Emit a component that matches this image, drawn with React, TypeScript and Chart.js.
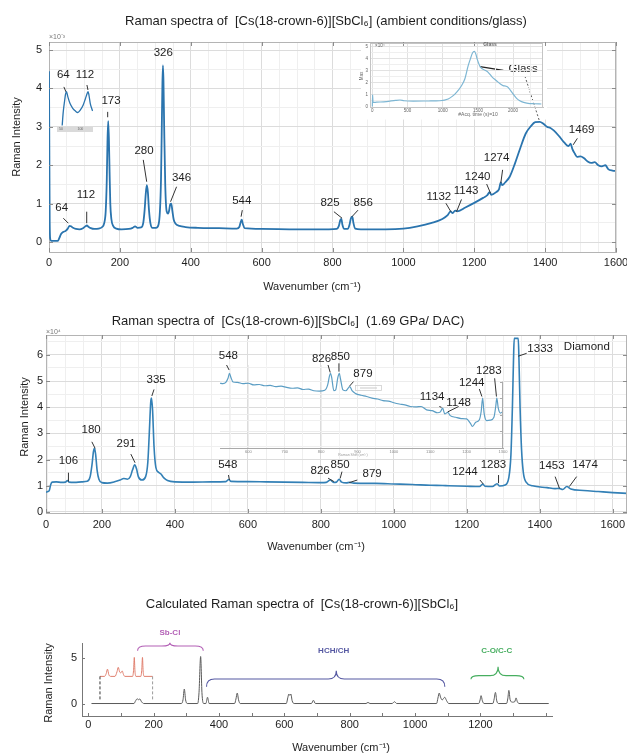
import React, { useEffect, useRef } from 'react';
import { Chart, registerables } from 'chart.js';

Chart.register(...registerables);

const FONT = "'Liberation Sans', Arial, Helvetica, sans-serif";
const INK = '#1e1e1e';

// ---------------- data (x = wavenumber cm-1, y = intensity) ----------------
// Ambient spectrum, intensity x1e-3
const AMBIENT_SPECTRUM: [number, number][] = [
  [0, 4.45], [1, 2.4], [2, 0.5], [3.5, 0.08], [6, 0.03], [25, 0.03], [29, 0.1], [34, 0.21], [40, 0.26],
  [47, 0.29], [53, 0.35], [58, 0.42], [62, 0.41], [68, 0.37], [76, 0.34], [86, 0.33], [96, 0.36],
  [103, 0.41], [107, 0.43], [111, 0.4], [118, 0.36], [128, 0.34], [140, 0.35], [150, 0.39], [156, 0.5],
  [160, 0.8], [163, 1.6], [165, 2.6], [167, 3.15], [169, 2.7], [171, 1.8], [173, 1.0], [176, 0.6],
  [181, 0.42], [190, 0.35], [205, 0.33], [225, 0.34], [236, 0.37], [243, 0.41], [250, 0.37], [260, 0.38],
  [266, 0.5], [270, 0.85], [273, 1.25], [276, 1.48], [279, 1.3], [282, 0.85], [286, 0.5], [292, 0.37],
  [302, 0.37], [309, 0.45], [313, 0.8], [316, 1.6], [318, 2.8], [320, 4.1], [321.5, 4.6], [323, 4.2],
  [325, 3.0], [328, 1.5], [332, 0.8], [336, 0.74], [339, 0.82], [342, 0.98], [345, 1.0], [348, 0.82],
  [352, 0.58], [358, 0.47], [368, 0.42], [385, 0.39], [420, 0.37], [480, 0.36], [530, 0.35], [537, 0.39],
  [541, 0.52], [544, 0.58], [547, 0.47], [552, 0.36], [600, 0.34], [700, 0.33], [790, 0.33], [812, 0.34],
  [818, 0.42], [822, 0.57], [825, 0.6], [828, 0.45], [833, 0.34], [843, 0.34], [848, 0.45], [852, 0.62],
  [856, 0.66], [859, 0.5], [864, 0.35], [880, 0.33], [950, 0.33], [1000, 0.35], [1040, 0.41], [1080, 0.5],
  [1110, 0.6], [1125, 0.7], [1133, 0.8], [1139, 0.75], [1146, 0.82], [1153, 0.8], [1175, 0.9], [1200, 1.02],
  [1225, 1.15], [1237, 1.22], [1243, 1.3], [1248, 1.23], [1262, 1.3], [1270, 1.38], [1275, 1.55],
  [1279, 1.48], [1287, 1.55], [1300, 1.7], [1315, 2.05], [1330, 2.45], [1345, 2.82], [1360, 3.02],
  [1372, 3.12], [1385, 3.13], [1395, 3.08], [1405, 3.0], [1415, 2.97], [1425, 2.9], [1440, 2.75],
  [1455, 2.58], [1466, 2.5], [1472, 2.56], [1477, 2.42], [1484, 2.3], [1490, 2.22], [1500, 2.23],
  [1510, 2.18], [1520, 2.1], [1530, 2.06], [1540, 2.08], [1550, 2.0], [1560, 1.97], [1570, 2.0],
  [1578, 1.9], [1590, 1.86], [1600, 1.85],
];

// Small low-frequency zoom inside the ambient panel
const AMBIENT_LOW_ZOOM: [number, number][] = [
  [54.5, 0.2], [57, 0.29], [60, 0.36], [62, 0.4], [64, 0.417], [67, 0.385], [72, 0.34], [78, 0.31],
  [84, 0.292], [89, 0.283], [95, 0.3], [101, 0.33], [106, 0.37], [110, 0.405], [112, 0.417], [114, 0.395],
  [117, 0.34], [120, 0.31], [122, 0.293],
];

// "Glass" inset: max intensity (x1e4) vs acquisition time
const GLASS_TRACE: [number, number][] = [
  [0, 0.05], [4, 1.0], [10, 0.38], [60, 0.4], [200, 0.45], [330, 0.55], [393, 0.58], [450, 0.52],
  [582, 0.49], [800, 0.5], [960, 0.52], [1078, 0.66], [1140, 0.9], [1196, 1.21], [1260, 1.7], [1314, 2.32],
  [1362, 3.42], [1400, 4.1], [1423, 4.47], [1450, 4.6], [1470, 4.4], [1490, 3.97], [1537, 3.3],
  [1600, 3.05], [1646, 2.87], [1700, 2.5], [1764, 2.18], [1820, 1.9], [1858, 1.77], [1900, 1.72],
  [1929, 1.63], [1960, 1.4], [2000, 1.08], [2050, 0.72], [2095, 0.52], [2150, 0.38], [2213, 0.3],
  [2300, 0.27], [2402, 0.25],
];

// DAC spectrum at 1.69 GPa, intensity x1e4
const DAC_SPECTRUM: [number, number][] = [
  [47, 0.75], [52, 0.78], [56, 0.82], [60, 1.05], [64, 1.14], [75, 1.15], [90, 1.13], [100, 1.14],
  [106, 1.2], [110, 1.14], [125, 1.13], [145, 1.15], [160, 1.17], [168, 1.35], [173, 1.8], [177, 2.3],
  [180, 2.43], [183, 2.2], [187, 1.6], [192, 1.25], [200, 1.12], [215, 1.1], [235, 1.15], [250, 1.22],
  [260, 1.28], [270, 1.25], [278, 1.35], [284, 1.6], [290, 1.8], [295, 1.65], [300, 1.35], [310, 1.22],
  [320, 1.35], [326, 1.9], [330, 3.0], [334, 4.2], [336, 4.35], [339, 3.9], [343, 2.5], [348, 1.7],
  [355, 1.52], [362, 1.45], [370, 1.3], [380, 1.2], [400, 1.15], [450, 1.14], [500, 1.15], [540, 1.16],
  [548, 1.24], [554, 1.17], [600, 1.16], [650, 1.15], [700, 1.14], [750, 1.13], [800, 1.12], [815, 1.13],
  [826, 1.22], [835, 1.13], [843, 1.14], [850, 1.25], [857, 1.14], [870, 1.11], [879, 1.13], [890, 1.1],
  [950, 1.09], [1000, 1.07], [1050, 1.05], [1100, 1.02], [1134, 1.01], [1150, 1.0], [1200, 0.98],
  [1235, 0.97], [1244, 1.07], [1250, 0.98], [1270, 0.97], [1283, 1.08], [1290, 0.99], [1305, 1.03],
  [1315, 1.3], [1321, 2.2], [1325, 4.0], [1328, 5.8], [1330, 6.63], [1341, 6.63], [1343, 5.8],
  [1346, 4.0], [1350, 2.4], [1355, 1.5], [1362, 1.15], [1380, 1.0], [1420, 0.93], [1442, 0.89],
  [1453, 0.9], [1463, 0.86], [1474, 0.97], [1485, 0.88], [1520, 0.82], [1560, 0.78], [1600, 0.74],
  [1640, 0.71],
];

// DAC zoomed region (inset), arbitrary units
const DAC_ZOOM: [number, number][] = [
  [522, 7.8], [530, 7.75], [538, 7.9], [544, 8.4], [548, 9.0], [552, 8.5], [558, 7.95], [570, 7.9],
  [585, 7.75], [600, 7.8], [615, 7.6], [630, 7.65], [645, 7.5], [660, 7.55], [675, 7.4], [690, 7.45],
  [705, 7.3], [720, 7.2], [735, 7.25], [750, 7.05], [765, 7.1], [780, 6.9], [795, 6.85], [810, 6.95],
  [818, 7.6], [823, 8.7], [826, 9.0], [829, 8.5], [835, 6.9], [840, 7.0], [846, 8.5], [850, 9.0],
  [853, 8.4], [860, 7.0], [868, 6.9], [875, 7.25], [879, 7.4], [885, 6.9], [895, 6.55], [910, 6.35],
  [925, 6.2], [940, 6.0], [955, 5.9], [970, 5.7], [985, 5.65], [1000, 5.45], [1015, 5.3], [1030, 5.2],
  [1045, 5.0], [1060, 4.95], [1075, 5.0], [1090, 4.6], [1105, 4.5], [1120, 4.25], [1128, 4.35],
  [1134, 4.8], [1140, 4.1], [1148, 4.3], [1155, 3.9], [1170, 3.7], [1185, 3.55], [1200, 3.5],
  [1210, 3.0], [1216, 2.6], [1225, 3.1], [1235, 3.4], [1240, 4.4], [1244, 6.0], [1248, 4.2],
  [1255, 3.3], [1265, 3.35], [1275, 3.7], [1280, 5.0], [1283, 6.0], [1287, 4.8], [1293, 4.2], [1300, 4.4],
];

// Calculated spectrum
const CALC_SPECTRUM: [number, number][] = [
  [10, 0], [140, 0], [145, 0.3], [150, 0.52], [154, 0.42], [158, 0.5], [163, 0.2], [170, 0], [285, 0],
  [290, 0.4], [294, 1.6], [298, 0.4], [303, 0], [335, 0], [339, 1.2], [344, 5.2], [348, 1.2], [353, 0],
  [360, 0], [365, 0.69], [370, 0], [448, 0], [452, 0.5], [456, 1.16], [460, 0.4], [465, 0], [606, 0],
  [611, 0.7], [614, 1.05], [617, 0.9], [620, 1.05], [624, 0.3], [630, 0], [683, 0], [689, 0.36],
  [695, 0], [850, 0], [856, 0.12], [862, 0], [930, 0], [937, 0.2], [944, 0], [1066, 0], [1070, 0.6],
  [1074, 1.16], [1078, 0.7], [1083, 0.4], [1091, 0.69], [1096, 0.35], [1103, 0], [1195, 0], [1199, 0.4],
  [1202, 0.87], [1206, 0.3], [1211, 0], [1238, 0], [1242, 0.5], [1246, 1.23], [1250, 0.3], [1255, 0],
  [1280, 0], [1284, 0.6], [1287, 1.45], [1291, 0.4], [1298, 0.15], [1305, 0.2], [1309, 0.62],
  [1313, 0.2], [1318, 0], [1409, 0],
];

// Calculated low-frequency region, offset trace
const CALC_LOW_ZOOM: [number, number][] = [
  [36, 3.0], [50, 3.0], [55, 3.3], [59, 3.8], [63, 3.2], [68, 3.0], [82, 3.0], [88, 3.5], [92, 4.0],
  [96, 3.5], [100, 3.4], [104, 3.6], [108, 3.2], [112, 3.0], [136, 3.0], [139, 3.8], [141, 5.1],
  [143, 3.6], [146, 3.0], [161, 3.0], [164, 3.8], [166, 5.1], [168, 3.6], [171, 3.0], [197, 3.0],
];

// ---------------- ticks ----------------
const AMBIENT_X_TICKS = [0, 200, 400, 600, 800, 1000, 1200, 1400, 1600];
const AMBIENT_Y_TICKS = [0, 1, 2, 3, 4, 5];
const DAC_X_TICKS = [47, 200, 400, 600, 800, 1000, 1200, 1400, 1600];
const DAC_X_LABELS = ['0', '200', '400', '600', '800', '1000', '1200', '1400', '1600'];
const DAC_Y_TICKS = [0, 1, 2, 3, 4, 5, 6];
const CALC_X_TICKS = [0, 200, 400, 600, 800, 1000, 1200];
const CALC_X_MARKS = [0, 100, 200, 300, 400, 500, 600, 700, 800, 900, 1000, 1100, 1200, 1300, 1400];
const CALC_Y_TICKS = [0, 5];
const GLASS_X_TICKS = [0, 500, 1000, 1500, 2000];
const GLASS_Y_TICKS = [0, 1, 2, 3, 4, 5];
const DAC_ZOOM_X_TICKS = [600, 700, 800, 900, 1000, 1100, 1200, 1300];

// ---------------- annotations (label text, anchor in data units, leader line) ----------------
type Peak = { t: string; x: number; y: number; leader?: number[]; dash?: boolean };

const AMBIENT_PEAKS: Peak[] = [
  { t: '64', x: 35.8, y: 0.88, leader: [40.4, 0.62, 54.5, 0.49] },
  { t: '112', x: 104.4, y: 1.22, leader: [106.4, 0.79, 106.4, 0.49] },
  { t: '173', x: 175, y: 3.68, leader: [165.6, 3.39, 165.6, 3.25] },
  { t: '280', x: 268, y: 2.38, leader: [266, 2.14, 275.7, 1.57] },
  { t: '326', x: 322.5, y: 4.93 },
  { t: '346', x: 374, y: 1.66, leader: [360, 1.44, 343, 1.05] },
  { t: '544', x: 544, y: 1.08, leader: [545.5, 0.83, 542, 0.66] },
  { t: '825', x: 793, y: 1.03, leader: [804, 0.79, 827, 0.62] },
  { t: '856', x: 886.6, y: 1.03, leader: [872, 0.83, 855, 0.66] },
  { t: '1132', x: 1100, y: 1.18, leader: [1120, 1.01, 1134, 0.79] },
  { t: '1143', x: 1177, y: 1.33, leader: [1164, 1.11, 1150, 0.79] },
  { t: '1240', x: 1209.6, y: 1.7, leader: [1235, 1.51, 1246, 1.27] },
  { t: '1274', x: 1263, y: 2.18, leader: [1280, 1.88, 1275, 1.54] },
  { t: '1469', x: 1503, y: 2.92, leader: [1491, 2.7, 1479, 2.53] },
  { t: '64', x: 40.4, y: 4.35, leader: [42, 4.04, 48, 3.91] },
  { t: '112', x: 101.6, y: 4.35, leader: [107, 4.09, 110, 3.96] },
  { t: 'Glass', x: 1338, y: 4.52, leader: [1343, 4.32, 1383, 3.18], dash: true },
];
const GLASS_POINTER = [1282, 4.47, 1216, 4.57];

const DAC_PEAKS: Peak[] = [
  { t: '106', x: 108.5, y: 1.96, leader: [108.5, 1.5, 108.5, 1.16] },
  { t: '180', x: 170.7, y: 3.13, leader: [172.6, 2.68, 181.6, 2.43] },
  { t: '291', x: 266.6, y: 2.62, leader: [279.5, 2.21, 291, 1.88] },
  { t: '335', x: 348.8, y: 5.04, leader: [343, 4.68, 337, 4.43] },
  { t: '548', x: 545, y: 1.79, leader: [547, 1.41, 549.6, 1.22] },
  { t: '826', x: 798, y: 1.58, leader: [820, 1.29, 836, 1.16] },
  { t: '850', x: 853, y: 1.79, leader: [858, 1.54, 853, 1.28] },
  { t: '879', x: 940.5, y: 1.45, leader: [900, 1.22, 878, 1.12] },
  { t: '1244', x: 1195, y: 1.54, leader: [1236, 1.22, 1245, 1.07] },
  { t: '1283', x: 1273, y: 1.79, leader: [1287, 1.41, 1287, 1.1] },
  { t: '1333', x: 1401, y: 6.25, leader: [1364, 6.06, 1341, 5.95] },
  { t: 'Diamond', x: 1529, y: 6.29 },
  { t: '1453', x: 1433, y: 1.76, leader: [1442, 1.35, 1454, 0.9] },
  { t: '1474', x: 1524, y: 1.79, leader: [1501, 1.35, 1481, 0.97] },
];

const DAC_ZOOM_PEAKS: Peak[] = [
  { t: '548', x: 545, y: 11.1, leader: [540, 10.0, 547, 9.4] },
  { t: '826', x: 801, y: 10.8, leader: [819, 10.0, 825, 9.1] },
  { t: '850', x: 853, y: 11.0, leader: [849, 10.2, 849, 9.2] },
  { t: '879', x: 915, y: 8.9, leader: [889, 8.0, 878, 7.45] },
  { t: '1134', x: 1105, y: 6.2, leader: [1125, 5.0, 1131, 4.9] },
  { t: '1148', x: 1178, y: 5.5, leader: [1178, 5.0, 1148, 4.35] },
  { t: '1244', x: 1214, y: 7.8, leader: [1235, 7.1, 1242, 6.2] },
  { t: '1283', x: 1261, y: 9.3, leader: [1277, 8.4, 1282, 6.2] },
];

type Brace = { label: string; from: number; to: number; center: number; end: number; bar: number; tip: number; labelY: number; labelX: number; color: string };
const CALC_BRACES: Brace[] = [
  { label: 'Sb-Cl', from: 151, to: 352, center: 250, end: 5.84, bar: 6.36, tip: 6.73, labelX: 250, labelY: 7.83, color: '#b360b6' },
  { label: 'HCH/CH', from: 362, to: 1091, center: 759, end: 1.86, bar: 2.71, tip: 3.63, labelX: 751, labelY: 5.8, color: '#5558a2' },
  { label: 'C-O/C-C', from: 1171, to: 1333, center: 1254, end: 2.68, bar: 3.08, tip: 4.07, labelX: 1250, labelY: 5.8, color: '#47ae60' },
];
const CALC_GUIDES = [
  { x: 36, y1: 3.0, y2: 0.39, color: '#333333' },
  { x: 197, y1: 3.0, y2: 0.4, color: '#9a9a9a' },
];

// ---------------- helpers ----------------
type Area = { left: number; right: number; top: number; bottom: number };

function steps(from: number, to: number, step: number) {
  const out: number[] = [];
  for (let v = from; v <= to + 1e-9; v += step) out.push(+v.toFixed(4));
  return out;
}

function series(points: [number, number][], color: string, width: number) {
  return {
    data: points.map(([x, y]) => ({ x, y })),
    borderColor: color,
    borderWidth: width,
    pointRadius: 0,
    fill: false,
    cubicInterpolationMode: 'monotone',
  };
}

function axis(o: {
  min: number; max: number; values: number[]; label: (v: number) => string; major: number[];
  grid: boolean; fit: (s: any) => void; pad: number; size: number; color?: string; border: string | false;
  majorColor?: string; minorColor?: string;
}) {
  const majorSet = new Set(o.major.map((v) => +v.toFixed(4)));
  return {
    type: 'linear',
    min: o.min,
    max: o.max,
    afterBuildTicks: (s: any) => { s.ticks = o.values.map((v) => ({ value: v })); },
    afterFit: o.fit,
    ticks: {
      autoSkip: false, maxRotation: 0, minRotation: 0, padding: o.pad, color: o.color || INK,
      font: { family: FONT, size: o.size },
      callback: (v: any) => o.label(Number(v)),
    },
    grid: {
      display: o.grid, drawTicks: false, lineWidth: 1,
      color: (c: any) => (majorSet.has(+Number(c.tick ? c.tick.value : NaN).toFixed(4)) ? (o.majorColor || '#dcdcdc') : (o.minorColor || '#efefef')),
    },
    border: { display: o.border !== false, color: o.border || '#999', width: 1 },
  };
}

function pin(area: Area, W: number, H: number) {
  return {
    padding: { left: 0, top: area.top, right: W - area.right, bottom: 0 },
    fitX: (s: any) => { s.height = H - area.bottom; s.paddingLeft = 0; s.paddingRight = 0; },
    fitY: (s: any) => { s.width = area.left; s.paddingTop = 0; s.paddingBottom = 0; },
  };
}

function text(ctx: CanvasRenderingContext2D, t: string, x: number, y: number, size: number, o: any = {}) {
  ctx.save();
  ctx.font = `${o.bold ? 'bold ' : ''}${size}px ${FONT}`;
  ctx.fillStyle = o.color || INK;
  ctx.textAlign = o.align || 'center';
  ctx.textBaseline = 'middle';
  if (o.rot) { ctx.translate(x, y); ctx.rotate(o.rot); ctx.fillText(t, 0, 0); }
  else ctx.fillText(t, x, y);
  ctx.restore();
}

function seg(ctx: CanvasRenderingContext2D, x1: number, y1: number, x2: number, y2: number, color: string, w: number, dash?: number[]) {
  ctx.save();
  ctx.strokeStyle = color; ctx.lineWidth = w;
  if (dash) ctx.setLineDash(dash);
  ctx.beginPath(); ctx.moveTo(x1, y1); ctx.lineTo(x2, y2); ctx.stroke();
  ctx.restore();
}

function peakLabels(chart: any, list: Peak[], size: number) {
  const sx = chart.scales.x, sy = chart.scales.y, ctx = chart.ctx;
  for (const p of list) {
    text(ctx, p.t, sx.getPixelForValue(p.x), sy.getPixelForValue(p.y), size);
    if (p.leader) {
      const [x1, y1, x2, y2] = p.leader;
      seg(ctx, sx.getPixelForValue(x1), sy.getPixelForValue(y1), sx.getPixelForValue(x2), sy.getPixelForValue(y2),
        '#333', p.dash ? 0.8 : 1, p.dash ? [2, 2] : undefined);
    }
  }
}

function frame(chart: any, color: string, xs: number[], ys: number[], len: number) {
  const ctx = chart.ctx, a = chart.chartArea, sx = chart.scales.x, sy = chart.scales.y;
  const top = Math.round(a.top) + 0.5, right = Math.round(a.right) - 0.5;
  seg(ctx, a.left, top, a.right, top, color, 1);
  seg(ctx, right, a.top, right, a.bottom, color, 1);
  for (const v of xs) {
    const p = Math.round(sx.getPixelForValue(v)) + 0.5;
    seg(ctx, p, a.bottom, p, a.bottom - len, '#8c8c8c', 1);
    seg(ctx, p, a.top, p, a.top + len, '#8c8c8c', 1);
  }
  for (const v of ys) {
    const p = Math.round(sy.getPixelForValue(v)) + 0.5;
    seg(ctx, a.left, p, a.left + len, p, '#8c8c8c', 1);
    seg(ctx, a.right, p, a.right - len, p, '#8c8c8c', 1);
  }
}

function baseOptions(layoutPadding: any, scales: any) {
  return {
    responsive: false,
    animation: false,
    events: [],
    layout: { padding: layoutPadding },
    plugins: { legend: { display: false }, tooltip: { enabled: false }, title: { display: false } },
    scales,
  };
}

const TITLE_SIZE = 13;
const AXIS_TITLE_SIZE = 11;
const TICK_SIZE = 11;
const PEAK_SIZE = 11.5;
const BLUE = '#2a74ae';

// ---------------- panel configs ----------------
function ambientConfig() {
  const W = 627, H = 300;
  const area = { left: 49, right: 616, top: 42, bottom: 252 };
  const p = pin(area, W, H);
  return {
    type: 'line',
    data: { datasets: [series(AMBIENT_SPECTRUM, BLUE, 1.8)] },
    options: baseOptions(p.padding, {
      x: axis({ min: 0, max: 1600, values: steps(0, 1600, 50), major: AMBIENT_X_TICKS, grid: true, fit: p.fitX, pad: 4, size: TICK_SIZE, border: '#b4b4b4',
        label: (v) => (AMBIENT_X_TICKS.includes(v) ? String(v) : '') }),
      y: axis({ min: -0.26, max: 5.21, values: steps(0, 5, 0.5), major: AMBIENT_Y_TICKS, grid: true, fit: p.fitY, pad: 7, size: TICK_SIZE, border: '#b4b4b4',
        label: (v) => (AMBIENT_Y_TICKS.includes(v) ? String(v) : '') }),
    }),
    plugins: [{
      id: 'ambientDeco',
      beforeDatasetsDraw(chart: any) {
        const ctx = chart.ctx;
        ctx.save(); ctx.fillStyle = '#ffffff'; ctx.fillRect(361, 42.5, 186, 77); ctx.restore();
      },
      afterDraw(chart: any) {
        const ctx = chart.ctx, sx = chart.scales.x, sy = chart.scales.y;
        frame(chart, '#b4b4b4', AMBIENT_X_TICKS, AMBIENT_Y_TICKS, 4);
        peakLabels(chart, AMBIENT_PEAKS, PEAK_SIZE);
        const [a, b, c, d] = GLASS_POINTER;
        seg(ctx, sx.getPixelForValue(a), sy.getPixelForValue(b), sx.getPixelForValue(c), sy.getPixelForValue(d), '#222', 1.4);
        text(ctx, 'Raman spectra of  [Cs(18-crown-6)][SbCl₆] (ambient conditions/glass)', 326, 21, TITLE_SIZE);
        text(ctx, 'Raman Intensity', 17, 137, AXIS_TITLE_SIZE, { rot: -Math.PI / 2 });
        text(ctx, 'Wavenumber (cm⁻¹)', 312, 287, AXIS_TITLE_SIZE);
        text(ctx, '×10⁻³', 49, 37, 7, { align: 'left', color: '#777' });
      },
    }],
  };
}

function ambientLowZoomConfig() {
  return {
    type: 'line',
    data: { datasets: [series(AMBIENT_LOW_ZOOM, BLUE, 1.3)] },
    options: baseOptions({ left: 5, top: 8, right: 5, bottom: 9 }, {
      x: { type: 'linear', display: false, min: 43, max: 123 },
      y: { type: 'linear', display: false, min: 0.19, max: 0.44 },
    }),
    plugins: [{
      id: 'lowZoomDeco',
      afterDraw(chart: any) {
        const ctx = chart.ctx, a = chart.chartArea, sx = chart.scales.x;
        ctx.save(); ctx.fillStyle = '#dadada'; ctx.fillRect(a.left, a.bottom, a.right - a.left, 5); ctx.restore();
        text(ctx, '50', sx.getPixelForValue(52), a.bottom + 2.5, 3.5, { color: '#666' });
        text(ctx, '100', sx.getPixelForValue(95), a.bottom + 2.5, 3.5, { color: '#666' });
      },
    }],
  };
}

function glassConfig() {
  const W = 192, H = 86;
  const area = { left: 14, right: 187, top: 7, bottom: 71.5 };
  const p = pin(area, W, H);
  return {
    type: 'line',
    data: { datasets: [series(GLASS_TRACE, '#7db6d3', 1.2)] },
    options: baseOptions(p.padding, {
      x: axis({ min: -33, max: 2425, values: steps(0, 2250, 250), major: GLASS_X_TICKS, grid: true, fit: p.fitX, pad: 1, size: 4.5, color: '#666', border: '#c4c4c4',
        majorColor: '#e2e2e2', minorColor: '#efefef', label: (v) => (GLASS_X_TICKS.includes(v) ? String(v) : '') }),
      y: axis({ min: -0.04, max: 5.3, values: steps(0, 5, 0.5), major: GLASS_Y_TICKS, grid: true, fit: p.fitY, pad: 2, size: 4.5, color: '#666', border: '#c4c4c4',
        majorColor: '#e2e2e2', minorColor: '#efefef', label: (v) => (GLASS_Y_TICKS.includes(v) ? String(v) : '') }),
    }),
    plugins: [{
      id: 'glassDeco',
      afterDraw(chart: any) {
        const ctx = chart.ctx;
        frame(chart, '#c4c4c4', [], [], 0);
        text(ctx, '×10⁴', 19, 10, 4.5, { align: 'left', color: '#666' });
        text(ctx, 'Glass', 134, 8.5, 5, { bold: true, color: '#666' });
        text(ctx, 'Max', 6, 40, 4.5, { rot: -Math.PI / 2, color: '#666' });
        text(ctx, '#Acq. time (s)=10', 122, 78.5, 5, { color: '#666' });
      },
    }],
  };
}

function dacConfig() {
  const W = 627, H = 260;
  const area = { left: 46, right: 627, top: 35, bottom: 213 };
  const p = pin(area, W, H);
  return {
    type: 'line',
    data: { datasets: [series(DAC_SPECTRUM, '#3380b6', 1.6)] },
    options: baseOptions(p.padding, {
      x: axis({ min: 47, max: 1639, values: [47, ...steps(50, 1600, 50)], major: DAC_X_TICKS, grid: true, fit: p.fitX, pad: 5, size: TICK_SIZE, border: '#b4b4b4',
        label: (v) => { const i = DAC_X_TICKS.indexOf(v); return i >= 0 ? DAC_X_LABELS[i] : ''; } }),
      y: axis({ min: -0.04, max: 6.76, values: steps(0, 6.5, 0.5), major: DAC_Y_TICKS, grid: true, fit: p.fitY, pad: 3, size: TICK_SIZE, border: '#b4b4b4',
        label: (v) => (DAC_Y_TICKS.includes(v) ? String(v) : '') }),
    }),
    plugins: [{
      id: 'dacDeco',
      afterDraw(chart: any) {
        const ctx = chart.ctx;
        frame(chart, '#b4b4b4', DAC_X_TICKS, DAC_Y_TICKS, 4);
        peakLabels(chart, DAC_PEAKS, PEAK_SIZE);
        text(ctx, 'Raman spectra of  [Cs(18-crown-6)][SbCl₆]  (1.69 GPa/ DAC)', 288, 21.5, TITLE_SIZE);
        text(ctx, 'Raman Intensity', 25, 117, AXIS_TITLE_SIZE, { rot: -Math.PI / 2 });
        text(ctx, 'Wavenumber (cm⁻¹)', 316, 247, AXIS_TITLE_SIZE);
        text(ctx, '×10⁴', 46, 32, 7, { align: 'left', color: '#777' });
      },
    }],
  };
}

function dacZoomConfig() {
  const W = 300, H = 115;
  const area = { left: 10, right: 293, top: 20, bottom: 103 };
  const p = pin(area, W, H);
  return {
    type: 'line',
    data: { datasets: [series(DAC_ZOOM, '#5c9ec4', 1.2)] },
    options: baseOptions(p.padding, {
      x: axis({ min: 522, max: 1300, values: steps(550, 1300, 50), major: DAC_ZOOM_X_TICKS, grid: true, fit: p.fitX, pad: 1.5, size: 4, color: '#888', border: '#aaaaaa',
        majorColor: '#ececec', minorColor: '#f3f3f3', label: (v) => (DAC_ZOOM_X_TICKS.includes(v) ? String(v) : '') }),
      y: axis({ min: 0, max: 10, values: steps(0, 8, 2), major: [], grid: true, fit: p.fitY, pad: 1, size: 4, color: '#888', border: false,
        minorColor: '#ececec', label: () => '' }),
    }),
    plugins: [{
      id: 'dacZoomDeco',
      afterDraw(chart: any) {
        const ctx = chart.ctx, a = chart.chartArea, sy = chart.scales.y;
        const rx = Math.round(a.right) - 0.5;
        seg(ctx, rx, sy.getPixelForValue(8), rx, a.bottom, '#aaaaaa', 1);
        for (const v of [0, 2, 4, 6, 8]) {
          const yy = Math.round(sy.getPixelForValue(v)) + 0.5;
          seg(ctx, rx, yy, rx - 2.5, yy, '#aaaaaa', 1);
        }
        ctx.save(); ctx.strokeStyle = '#cfcfcf'; ctx.lineWidth = 0.8; ctx.strokeRect(145.5, 40.5, 26, 5); ctx.restore();
        seg(ctx, 150, 43, 167, 43, '#bbbbbb', 0.8);
        text(ctx, 'Raman Shift (cm⁻¹)', 143, 110, 3.5, { color: '#999' });
        peakLabels(chart, DAC_ZOOM_PEAKS, PEAK_SIZE);
      },
    }],
  };
}

function calcConfig() {
  const W = 627, H = 176;
  const area = { left: 82, right: 552, top: 63, bottom: 136 };
  const p = pin(area, W, H);
  return {
    type: 'line',
    data: {
      datasets: [
        series(CALC_SPECTRUM, '#5a5a5a', 1),
        series(CALC_LOW_ZOOM, '#e07f6e', 1),
      ],
    },
    options: baseOptions(p.padding, {
      x: axis({ min: -19, max: 1419, values: CALC_X_TICKS, major: CALC_X_TICKS, grid: false, fit: p.fitX, pad: 2.5, size: TICK_SIZE, border: '#777777',
        label: (v) => String(v) }),
      y: axis({ min: -1.38, max: 6.69, values: CALC_Y_TICKS, major: CALC_Y_TICKS, grid: false, fit: p.fitY, pad: 5, size: TICK_SIZE, border: '#777777',
        label: (v) => String(v) }),
    }),
    plugins: [{
      id: 'calcDeco',
      afterDraw(chart: any) {
        const ctx = chart.ctx, a = chart.chartArea, sx = chart.scales.x, sy = chart.scales.y;
        for (const v of CALC_X_MARKS) {
          const xx = Math.round(sx.getPixelForValue(v)) + 0.5;
          seg(ctx, xx, a.bottom, xx, a.bottom - 3, '#777', 1);
        }
        for (const v of CALC_Y_TICKS) {
          const yy = Math.round(sy.getPixelForValue(v)) + 0.5;
          seg(ctx, a.left, yy, a.left + 3, yy, '#777', 1);
        }
        for (const g of CALC_GUIDES) {
          const xx = sx.getPixelForValue(g.x);
          seg(ctx, xx, sy.getPixelForValue(g.y1), xx, sy.getPixelForValue(g.y2), g.color, 1, [3, 2]);
        }
        for (const b of CALC_BRACES) {
          const x1 = sx.getPixelForValue(b.from), x2 = sx.getPixelForValue(b.to), xc = sx.getPixelForValue(b.center);
          const ye = sy.getPixelForValue(b.end), yb = sy.getPixelForValue(b.bar), yt = sy.getPixelForValue(b.tip);
          const r = Math.min(8, (xc - x1) / 3);
          ctx.save();
          ctx.strokeStyle = b.color; ctx.lineWidth = 1.1;
          ctx.beginPath();
          ctx.moveTo(x1, ye);
          ctx.quadraticCurveTo(x1, yb, x1 + r, yb);
          ctx.lineTo(xc - r, yb);
          ctx.quadraticCurveTo(xc, yb, xc, yt);
          ctx.quadraticCurveTo(xc, yb, xc + r, yb);
          ctx.lineTo(x2 - r, yb);
          ctx.quadraticCurveTo(x2, yb, x2, ye);
          ctx.stroke();
          ctx.restore();
          text(ctx, b.label, sx.getPixelForValue(b.labelX), sy.getPixelForValue(b.labelY), 8, { bold: true, color: b.color });
        }
        text(ctx, 'Calculated Raman spectra of  [Cs(18-crown-6)][SbCl₆]', 302, 24, TITLE_SIZE);
        text(ctx, 'Raman Intensity', 49, 103, AXIS_TITLE_SIZE, { rot: -Math.PI / 2 });
        text(ctx, 'Wavenumber (cm⁻¹)', 341, 168, AXIS_TITLE_SIZE);
      },
    }],
  };
}

// ---------------- component ----------------
const PANELS = [
  { key: 'ambient', left: 0, top: 0, w: 627, h: 300, make: ambientConfig },
  { key: 'calc', left: 0, top: 580, w: 627, h: 176, make: calcConfig },
  { key: 'dac', left: 0, top: 300, w: 627, h: 260, make: dacConfig },
  { key: 'glass', left: 356, top: 36, w: 192, h: 86, make: glassConfig },
  { key: 'low', left: 52, top: 80, w: 46, h: 56, make: ambientLowZoomConfig },
  { key: 'dacZoom', left: 210, top: 345, w: 300, h: 115, make: dacZoomConfig },
];

export default function App() {
  const refs = useRef<(HTMLCanvasElement | null)[]>([]);

  useEffect(() => {
    const charts = PANELS.map((p, i) => new Chart(refs.current[i] as HTMLCanvasElement, p.make() as any));
    return () => charts.forEach((c) => c.destroy());
  }, []);

  return (
    <div style={{ position: 'absolute', left: 0, top: 0, width: 627, height: 756, background: '#ffffff', overflow: 'hidden' }}>
      {PANELS.map((p, i) => (
        <canvas
          key={p.key}
          ref={(el) => { refs.current[i] = el; }}
          width={p.w}
          height={p.h}
          style={{ position: 'absolute', left: p.left, top: p.top, width: p.w, height: p.h }}
        />
      ))}
    </div>
  );
}
